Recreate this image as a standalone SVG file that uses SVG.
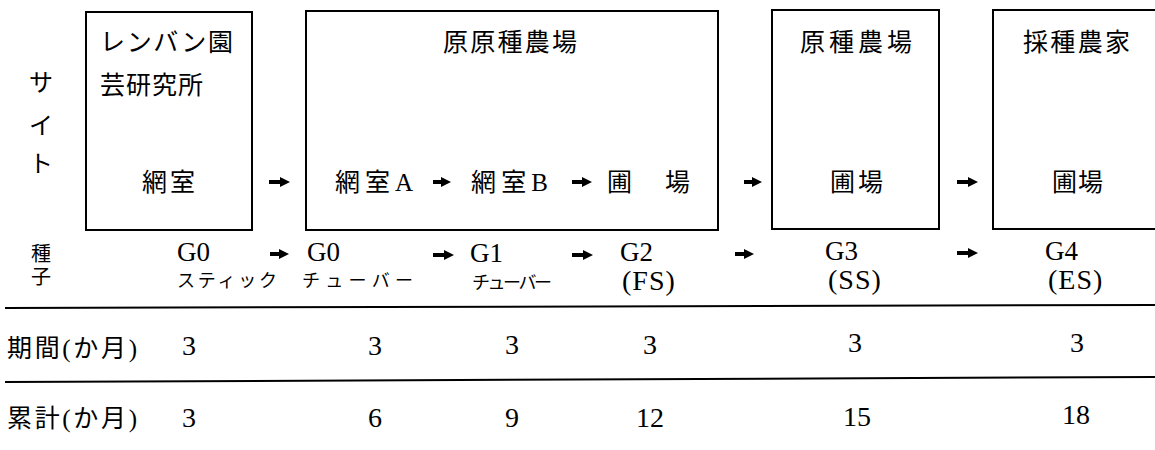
<svg xmlns="http://www.w3.org/2000/svg" width="1155" height="450" viewBox="0 0 1155 450">
<style>
.box{fill:none;stroke:#000;stroke-width:2}
.jp{font-family:"Liberation Serif","Noto Sans CJK JP",serif;font-size:25px;fill:#000}
.lat{font-family:"Liberation Serif","Noto Sans CJK JP",serif;font-size:27px;fill:#000}
.par{font-family:"Liberation Serif",serif;font-size:28px;fill:#000;letter-spacing:1px}
.num{font-family:"Liberation Serif",serif;font-size:28px;fill:#000;text-anchor:middle}
.kana{font-family:"Noto Sans CJK JP",sans-serif;font-size:18px;fill:#000}
.arr{stroke:#000;stroke-width:4;fill:none}
.rule{stroke:#000;stroke-width:2}
</style>
<defs>
<marker id="ah" viewBox="0 0 10 10" refX="4" refY="5" markerWidth="10" markerHeight="13" markerUnits="userSpaceOnUse" orient="auto">
<path d="M0,0 L10,5 L0,10 z" fill="#000"/>
</marker>
</defs>
<rect width="1155" height="450" fill="#fff"/>

<g id="site-label">
<text class="jp" x="41" y="91" text-anchor="middle" style="font-size:24px">サ</text>
<text class="jp" x="41" y="134" text-anchor="middle" style="font-size:24px">イ</text>
<text class="jp" x="41" y="172" text-anchor="middle" style="font-size:24px">ト</text>
</g>

<g id="node-lenbang">
<rect class="box" x="86" y="12" width="166" height="218"/>
<text class="jp" x="100" y="51" textLength="133" lengthAdjust="spacing">レンバン園</text>
<text class="jp" x="100" y="94" textLength="103" lengthAdjust="spacing">芸研究所</text>
<text class="jp" x="142" y="191" textLength="53" lengthAdjust="spacing">網室</text>
</g>

<g id="node-genegenshu">
<rect class="box" x="306" y="11" width="412" height="219"/>
<text class="jp" x="443" y="51" textLength="134" lengthAdjust="spacing">原原種農場</text>
<text class="jp" x="335" y="191" textLength="78" lengthAdjust="spacing">網室A</text>
<text class="jp" x="471" y="191" textLength="77" lengthAdjust="spacing">網室B</text>
<text class="jp" x="607" y="191" letter-spacing="4">圃　場</text>
</g>

<g id="node-genshu">
<rect class="box" x="772" y="10" width="167" height="219"/>
<text class="jp" x="800" y="51" textLength="112" lengthAdjust="spacing">原種農場</text>
<text class="jp" x="830" y="191" textLength="53" lengthAdjust="spacing">圃場</text>
</g>

<g id="node-saishu">
<path class="box" d="M1156,10 H993 V229 H1156"/>
<text class="jp" x="1023" y="51" textLength="107" lengthAdjust="spacing">採種農家</text>
<text class="jp" x="1052" y="191" textLength="51" lengthAdjust="spacing">圃場</text>
</g>

<g id="connectors">
<line class="arr" x1="269" y1="182" x2="284" y2="182" marker-end="url(#ah)"/>
<line class="arr" x1="433" y1="182" x2="445" y2="182" marker-end="url(#ah)"/>
<line class="arr" x1="572" y1="182" x2="586" y2="182" marker-end="url(#ah)"/>
<line class="arr" x1="744" y1="182" x2="756" y2="182" marker-end="url(#ah)"/>
<line class="arr" x1="957" y1="182" x2="972" y2="182" marker-end="url(#ah)"/>
<line class="arr" x1="270" y1="254" x2="283" y2="254" marker-end="url(#ah)"/>
<line class="arr" x1="433" y1="255" x2="448" y2="255" marker-end="url(#ah)"/>
<line class="arr" x1="572" y1="255" x2="587" y2="255" marker-end="url(#ah)"/>
<line class="arr" x1="735" y1="254" x2="748" y2="254" marker-end="url(#ah)"/>
<line class="arr" x1="957" y1="253" x2="972" y2="253" marker-end="url(#ah)"/>
</g>

<g id="seed-row">
<text class="jp" x="41" y="261" text-anchor="middle" style="font-size:20px">種</text>
<text class="jp" x="41" y="284" text-anchor="middle" style="font-size:20px">子</text>
<text class="lat" x="177" y="261">G0</text>
<text class="kana" x="177" y="287" textLength="100" lengthAdjust="spacing">スティック</text>
<text class="lat" x="307" y="261">G0</text>
<text class="kana" x="302" y="287" textLength="111" lengthAdjust="spacing">チューバー</text>
<text class="lat" x="470" y="262">G1</text>
<text class="kana" x="472" y="289" textLength="80" lengthAdjust="spacing">チューバー</text>
<text class="lat" x="620" y="261">G2</text>
<text class="par" x="622" y="290">(FS)</text>
<text class="lat" x="825" y="260">G3</text>
<text class="par" x="828" y="289">(SS)</text>
<text class="lat" x="1045" y="260">G4</text>
<text class="par" x="1048" y="289">(ES)</text>
</g>

<line class="rule" x1="5" y1="308" x2="1155" y2="305"/>
<line class="rule" x1="5" y1="382" x2="1155" y2="377"/>

<g id="period-row">
<text class="jp" x="7" y="357" textLength="130" lengthAdjust="spacing">期間(か月)</text>
<text class="num" x="189" y="355">3</text>
<text class="num" x="375" y="355">3</text>
<text class="num" x="512" y="354">3</text>
<text class="num" x="650" y="354">3</text>
<text class="num" x="855" y="352">3</text>
<text class="num" x="1077" y="352">3</text>
</g>

<g id="total-row">
<text class="jp" x="7" y="427" textLength="130" lengthAdjust="spacing">累計(か月)</text>
<text class="num" x="189" y="427">3</text>
<text class="num" x="375" y="427">6</text>
<text class="num" x="512" y="427">9</text>
<text class="num" x="650" y="427">12</text>
<text class="num" x="857" y="426">15</text>
<text class="num" x="1076" y="424">18</text>
</g>
</svg>
